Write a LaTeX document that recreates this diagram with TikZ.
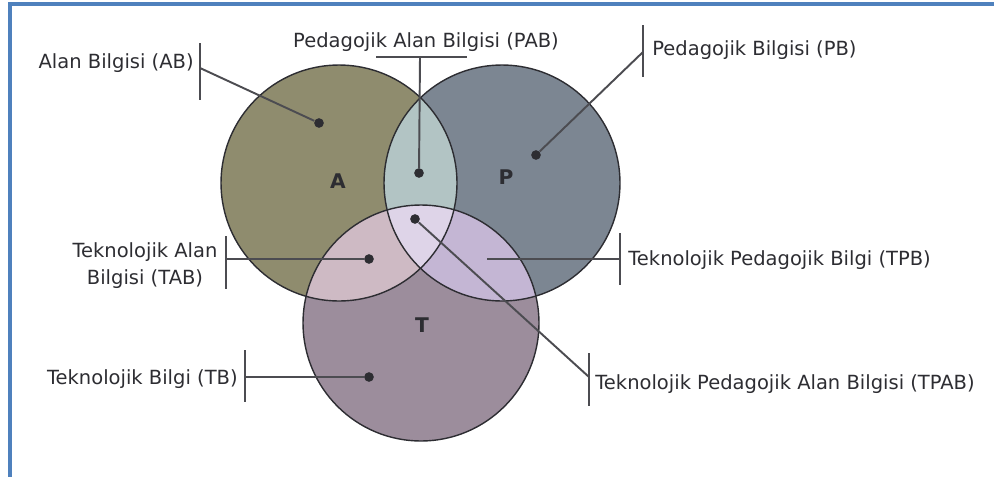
\documentclass[tikz,border=0pt]{standalone}
\usepackage{fontspec}
\newfontfamily\lblfont{DejaVu Sans}
\usetikzlibrary{positioning,calc}
\definecolor{frameblue}{RGB}{79,129,189}
\definecolor{colA}{RGB}{143,140,110}
\definecolor{colP}{RGB}{124,134,146}
\definecolor{colT}{RGB}{156,141,156}
\definecolor{colAP}{RGB}{178,196,196}
\definecolor{colAT}{RGB}{206,186,196}
\definecolor{colPT}{RGB}{196,182,212}
\definecolor{colAPT}{RGB}{222,212,232}
\definecolor{inkgray}{RGB}{45,45,50}
\newcommand{\vennr}{2.36cm}

\begin{document}
\begin{tikzpicture}[
  x=0.02cm, y=-0.02cm,
  every node/.style={font=\lblfont\fontsize{11.1}{15.4}\selectfont, text=inkgray},
  lbl/.style={inner sep=0pt, align=center},
  setname/.style={font=\lblfont\bfseries\fontsize{11.5}{13}\selectfont, text=inkgray},
  dot/.style={circle, fill=inkgray, inner sep=0pt, minimum size=5.5pt},
  bar/.style={inkgray!85, line width=1.1pt},
  lead/.style={inkgray!85, line width=1.1pt},
  rim/.style={draw=inkgray, line width=0.8pt},
]
\useasboundingbox (0,0) rectangle (994,477);

%% Frame
\draw[frameblue, line width=2.2pt] (994,4) -- (10,4) -- (10,477);

%% Circles
\coordinate (cA) at (339,183);
\coordinate (cP) at (502,183);
\coordinate (cT) at (421,323);

\fill[colA] (cA) circle[radius=\vennr];
\fill[colP] (cP) circle[radius=\vennr];
\fill[colT] (cT) circle[radius=\vennr];
\begin{scope}
  \clip (cA) circle[radius=\vennr];
  \fill[colAP] (cP) circle[radius=\vennr];
  \fill[colAT] (cT) circle[radius=\vennr];
\end{scope}
\begin{scope}
  \clip (cP) circle[radius=\vennr];
  \fill[colPT] (cT) circle[radius=\vennr];
\end{scope}
\begin{scope}
  \clip (cA) circle[radius=\vennr];
  \clip (cP) circle[radius=\vennr];
  \fill[colAPT] (cT) circle[radius=\vennr];
\end{scope}
\foreach \c in {cA,cP,cT}
  \draw[rim] (\c) circle[radius=\vennr];

%% Set letters
\node[setname] (lA) at (338,181) {A};
\node[setname] (lP) at (506,177) {P};
\node[setname] (lT) at (422,325) {T};

%% Dots
\node[dot] (dAB) at (319,123) {};
\node[dot] (dPAB) at (419,173) {};
\node[dot] (dTPAB) at (415,219) {};
\node[dot] (dPB) at (536,155) {};
\node[dot] (dTAB) at (369,259) {};
\node[dot] (dTB) at (369,377) {};
\coordinate (dTPB) at (487,259);

%% Labels
\node[lbl, anchor=east] (tAB) at (194,63) {Alan Bilgisi (AB)};
\node[lbl] (tPAB) at (426,42) {Pedagojik Alan Bilgisi (PAB)};
\node[lbl, anchor=west] (tPB) at (652,50) {Pedagojik Bilgisi (PB)};
\node[lbl] (tTAB) at (145,266) {Teknolojik Alan\\Bilgisi (TAB)};
\node[lbl, anchor=east] (tTB) at (238,379) {Teknolojik Bilgi (TB)};
\node[lbl, anchor=west] (tTPB) at (628,260) {Teknolojik Pedagojik Bilgi (TPB)};
\node[lbl, anchor=west] (tTPAB) at (595,384) {Teknolojik Pedagojik Alan Bilgisi (TPAB)};

%% Label bars
\draw[bar] (200,43) -- (200,100);
\draw[bar] (376,57) -- (467,57);
\draw[bar] (643,25) -- (643,77);
\draw[bar] (226,236) -- (226,289);
\draw[bar] (245,350) -- (245,402);
\draw[bar] (620,233) -- (620,285);
\draw[bar] (589,353) -- (589,406);

\coordinate (bAB) at (200,68);
\coordinate (bPAB) at (420,57);
\coordinate (bPB) at (643,52);
\coordinate (bTAB) at (226,259);
\coordinate (bTB) at (245,377);
\coordinate (bTPB) at (620,259);
\coordinate (bTPAB) at (589,377);

%% Leaders
\draw[lead] (bAB) -- (dAB);
\draw[lead] (bPAB) -- (dPAB);
\draw[lead] (bPB) -- (dPB);
\draw[lead] (bTAB) -- (dTAB);
\draw[lead] (bTB) -- (dTB);
\draw[lead] (bTPB) -- (dTPB);
\draw[lead] (dTPAB) -- (bTPAB);

\end{tikzpicture}
\end{document}
